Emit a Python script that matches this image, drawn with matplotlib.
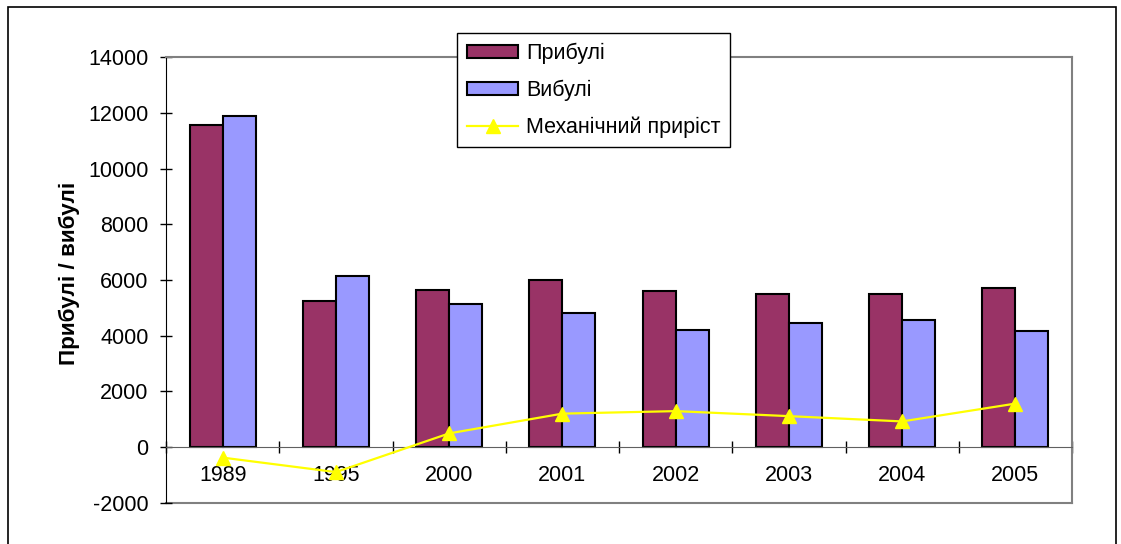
import numpy as np
import matplotlib.pyplot as plt
from matplotlib.patches import Rectangle

plt.rcParams['font.family'] = ['Liberation Sans', 'DejaVu Sans']

# дані
years = ['1989', '1995', '2000', '2001', '2002', '2003', '2004', '2005']
arrived = [11550, 5240, 5650, 6010, 5590, 5510, 5510, 5730]    # Прибулі
departed = [11900, 6160, 5140, 4800, 4220, 4440, 4580, 4150]   # Вибулі
net = [-380, -900, 490, 1200, 1290, 1110, 920, 1560]           # Механічний приріст
y_ticks = [-2000, 0, 2000, 4000, 6000, 8000, 10000, 12000, 14000]

FS = 15.5
GRAY = '#808080'

fig = plt.figure(figsize=(11.21, 5.44), dpi=100)
ax = fig.add_axes([0.1481, 0.0759, 0.8082, 0.8188])

x = np.arange(len(years))
w = 0.291
b1 = ax.bar(x - w / 2, arrived, w, color='#993366', edgecolor='black', linewidth=1.5,
            label='Прибулі', zorder=2)
b2 = ax.bar(x + w / 2, departed, w, color='#9999FF', edgecolor='black', linewidth=1.5,
            label='Вибулі', zorder=2)
ln, = ax.plot(x, net, color='#FFFF00', linewidth=1.6, marker='^', markersize=10,
              markerfacecolor='#FFFF00', markeredgecolor='#FFFF00',
              label='Механічний приріст', zorder=3, clip_on=False)

ax.set_xlim(-0.5, len(years) - 0.5)
ax.set_ylim(y_ticks[0], y_ticks[-1])
ax.set_yticks(y_ticks)
ax.set_yticklabels([str(v) for v in y_ticks], fontsize=FS)
ax.tick_params(axis='y', direction='inout', length=9, width=1, pad=8)

# підписи категорій біля нульової лінії
ax.spines['bottom'].set_position(('data', 0))
ax.spines['bottom'].set_color('#606060')
ax.set_xticks(x)
ax.set_xticklabels(years, fontsize=FS)
ax.set_xticks(np.arange(len(years) + 1) - 0.5, minor=True)
ax.tick_params(axis='x', which='major', length=0, pad=13)
ax.tick_params(axis='x', which='minor', direction='inout', length=9, width=1)

ax.spines['left'].set_color('black')
for s in ['top', 'right']:
    ax.spines[s].set_color(GRAY)
    ax.spines[s].set_linewidth(1.5)
ax.plot([0, 1], [0, 0], transform=ax.transAxes, color=GRAY, linewidth=1.5,
        clip_on=False, zorder=1)

ax.set_ylabel('Прибулі / вибулі', fontsize=16.2, fontweight='bold')
ax.yaxis.set_label_coords(-0.095, 0.515)

leg = fig.legend([b1, b2, ln], ['Прибулі', 'Вибулі', 'Механічний приріст'],
                 loc='upper left', bbox_to_anchor=(0.4077, 0.9393),
                 fontsize=FS, frameon=True, fancybox=False, framealpha=1,
                 edgecolor='black', handlelength=2.4, handleheight=0.55,
                 handletextpad=0.35, labelspacing=0.72, borderpad=0.45,
                 borderaxespad=0)
leg.get_frame().set_linewidth(1)
leg.set_zorder(5)

# рамка діаграми
fig.patches.append(Rectangle((8 / 1121, -0.1), 1108 / 1121, 1.1 - 7 / 544,
                             transform=fig.transFigure, fill=False,
                             edgecolor='black', linewidth=1.2))

fig.savefig('out.png', dpi=100)
